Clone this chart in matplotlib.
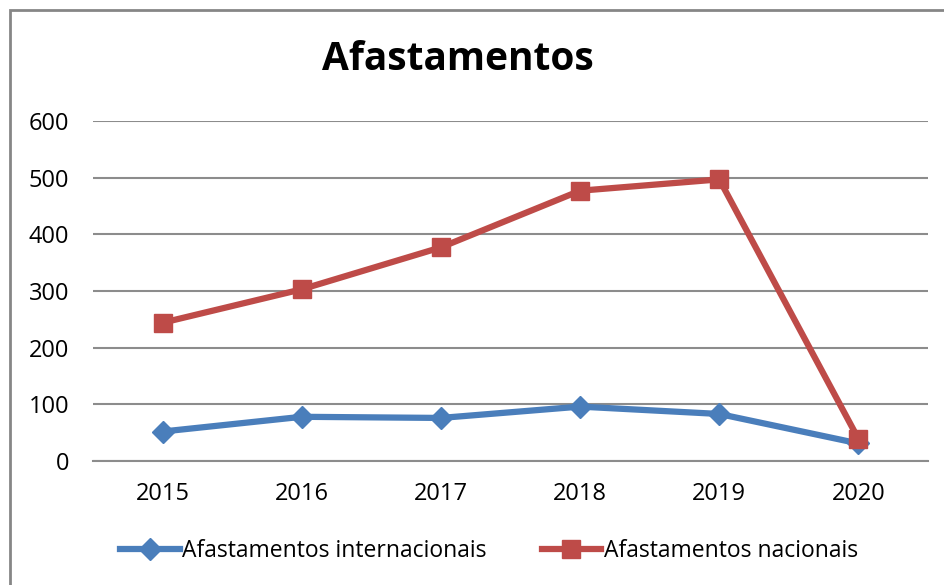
import matplotlib
matplotlib.use('Agg')
import matplotlib.pyplot as plt
from matplotlib.patches import Rectangle

plt.rcParams['font.family'] = ['Open Sans', 'DejaVu Sans']

anos = ['2015', '2016', '2017', '2018', '2019', '2020']
internacionais = [52, 78, 76, 96, 83, 31]
nacionais = [244, 303, 377, 477, 497, 39]
yticks = [0, 100, 200, 300, 400, 500, 600]

W, H = 944, 585
fig = plt.figure(figsize=(W / 100, H / 100), dpi=100)
ax = fig.add_axes([93 / W, 1 - 461 / H, (928 - 93) / W, (461 - 121) / H])

x = list(range(len(anos)))
ax.plot(x, internacionais, color='#4a7ebb', lw=4.5, marker='D', ms=11,
        label='Afastamentos internacionais', solid_joinstyle='round')
ax.plot(x, nacionais, color='#be4b48', lw=4.5, marker='s', ms=13,
        label='Afastamentos nacionais', solid_joinstyle='round')

ax.set_xlim(-0.5, len(anos) - 0.5)
ax.set_ylim(0, 600)
ax.set_yticks(yticks)
ax.set_xticks(x)
ax.set_xticklabels(anos)
ax.yaxis.grid(True, color='#8c8c8c', lw=1.5)
ax.set_axisbelow(True)
for s in ['top', 'right', 'left']:
    ax.spines[s].set_visible(False)
ax.spines['bottom'].set_color('#8c8c8c')
ax.spines['bottom'].set_linewidth(1.5)
ax.tick_params(axis='both', length=0, labelsize=17, colors='black')
ax.tick_params(axis='y', pad=17)
ax.tick_params(axis='x', pad=15)

fig.text(458 / W, 1 - 60 / H, 'Afastamentos', ha='center', va='center',
         fontsize=28, fontweight='bold')

fig.legend(loc='center', bbox_to_anchor=(489 / W, 1 - 551 / H), ncol=2,
           frameon=False, fontsize=16.5, handlelength=2.6, handletextpad=0.1,
           columnspacing=2.4)

fig.patches.append(Rectangle((10 / W, -0.1), 1.2, 1 - 10 / H + 0.1,
                             transform=fig.transFigure, fill=False,
                             edgecolor='#868686', lw=2))

fig.savefig('out.png', dpi=100)
